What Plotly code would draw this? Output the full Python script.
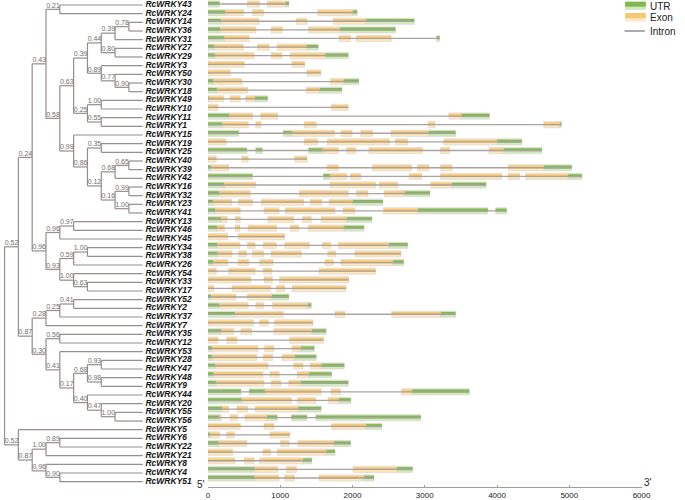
import plotly.graph_objects as go

W, H = 685, 500

# ---------------- data ----------------
genes = ["RcWRKY43", "RcWRKY24", "RcWRKY14", "RcWRKY36", "RcWRKY31", "RcWRKY27", "RcWRKY29",
         "RcWRKY3", "RcWRKY50", "RcWRKY30", "RcWRKY18", "RcWRKY49", "RcWRKY10", "RcWRKY11",
         "RcWRKY1", "RcWRKY15", "RcWRKY19", "RcWRKY25", "RcWRKY40", "RcWRKY39", "RcWRKY42",
         "RcWRKY16", "RcWRKY32", "RcWRKY23", "RcWRKY41", "RcWRKY13", "RcWRKY46", "RcWRKY45",
         "RcWRKY34", "RcWRKY38", "RcWRKY26", "RcWRKY54", "RcWRKY33", "RcWRKY17", "RcWRKY52",
         "RcWRKY2", "RcWRKY37", "RcWRKY7", "RcWRKY35", "RcWRKY12", "RcWRKY53", "RcWRKY28",
         "RcWRKY47", "RcWRKY48", "RcWRKY9", "RcWRKY44", "RcWRKY20", "RcWRKY55", "RcWRKY56",
         "RcWRKY5", "RcWRKY6", "RcWRKY22", "RcWRKY21", "RcWRKY8", "RcWRKY4", "RcWRKY51"]

# tree (Newick, bootstrap support as internal node labels)
clade_G = "(((RcWRKY14,RcWRKY36)0.78,RcWRKY31)0.39,(RcWRKY27,RcWRKY29)0.80)0.44"
clade_H = "(RcWRKY3,(RcWRKY50,(RcWRKY30,RcWRKY18)0.90)0.77)0.89"
clade_F = "((RcWRKY49,RcWRKY10)1.00,(RcWRKY11,RcWRKY1)0.55)0.25"
clade_D = ("(RcWRKY15,((RcWRKY19,RcWRKY25)0.35,(((RcWRKY40,RcWRKY39)0.65,RcWRKY42)0.68,"
           "((RcWRKY16,RcWRKY32)0.99,(RcWRKY23,RcWRKY41)1.00)0.16)0.12)0.86)0.99")
clade_A = f"((RcWRKY43,RcWRKY24)0.21,((({clade_G},{clade_H})0.39,{clade_F})0.63,{clade_D})0.58)0.43"
clade_I = ("(((RcWRKY13,RcWRKY46)0.97,RcWRKY45)0.96,(((RcWRKY34,RcWRKY38)1.00,RcWRKY26)0.59,"
           "(RcWRKY54,(RcWRKY33,RcWRKY17)0.63)1.00)0.93)0.96")
clade_K = ("((((RcWRKY52,RcWRKY2)0.41,RcWRKY37)0.25,RcWRKY7)0.28,((RcWRKY35,RcWRKY12)0.56,"
           "(RcWRKY53,(((RcWRKY28,RcWRKY47)0.93,(RcWRKY48,RcWRKY9)0.98)0.68,"
           "(RcWRKY44,(RcWRKY20,(RcWRKY55,RcWRKY56)1.00)0.47)0.40)0.17)0.41)0.30)0.87")
clade_L = "(RcWRKY5,(((RcWRKY6,RcWRKY22)0.89,RcWRKY21)1.00,(RcWRKY8,(RcWRKY4,RcWRKY51)0.90)0.96)0.87)0.52"
newick = f"((({clade_A},{clade_I})0.24,{clade_K})0.52,{clade_L});"

# gene structures (bp)
utr = {
    "RcWRKY43": [(0, 160), (1073, 1119)],
    "RcWRKY24": [(0, 242), (2000, 2064)],
    "RcWRKY14": [(0, 183), (2183, 2854)],
    "RcWRKY36": [(0, 174), (1826, 2594)],
    "RcWRKY31": [(0, 228), (3164, 3205)],
    "RcWRKY27": [(0, 91), (1360, 1525)],
    "RcWRKY29": [(0, 100), (1621, 1941)],
    "RcWRKY3": [],
    "RcWRKY50": [],
    "RcWRKY30": [(0, 78), (1872, 2087)],
    "RcWRKY18": [(0, 128), (1543, 1854)],
    "RcWRKY49": [(0, 14), (648, 826)],
    "RcWRKY10": [],
    "RcWRKY11": [(0, 297), (3507, 3895)],
    "RcWRKY1": [(0, 205), (4863, 4890)],
    "RcWRKY15": [(0, 425), (1041, 1164), (3050, 3425)],
    "RcWRKY19": [(4000, 4342)],
    "RcWRKY25": [(0, 539), (662, 753), (1393, 1589), (4087, 4621)],
    "RcWRKY40": [],
    "RcWRKY39": [(0, 46), (4648, 5032)],
    "RcWRKY42": [(0, 616), (1598, 1689), (4977, 5174)],
    "RcWRKY16": [(0, 228), (3370, 3849)],
    "RcWRKY32": [(0, 160), (2717, 3073)],
    "RcWRKY23": [(0, 78), (2000, 2420)],
    "RcWRKY41": [(0, 105), (2900, 3872), (3982, 4132)],
    "RcWRKY13": [(0, 183), (1918, 2269)],
    "RcWRKY46": [(0, 128), (1881, 2160)],
    "RcWRKY45": [],
    "RcWRKY34": [(0, 128), (2502, 2763)],
    "RcWRKY38": [(0, 137)],
    "RcWRKY26": [(0, 78), (2557, 2708)],
    "RcWRKY54": [],
    "RcWRKY33": [],
    "RcWRKY17": [],
    "RcWRKY52": [(0, 46), (877, 1119)],
    "RcWRKY2": [(0, 160), (1379, 1429)],
    "RcWRKY37": [(0, 379), (3219, 3425)],
    "RcWRKY7": [],
    "RcWRKY35": [(0, 183), (1438, 1635)],
    "RcWRKY12": [],
    "RcWRKY53": [(0, 59), (1279, 1470)],
    "RcWRKY28": [(0, 59), (1196, 1498)],
    "RcWRKY47": [(0, 105), (1566, 1886)],
    "RcWRKY48": [(0, 82), (1393, 1712)],
    "RcWRKY9": [(0, 114), (1279, 1941)],
    "RcWRKY44": [(0, 457), (571, 790), (2822, 3616)],
    "RcWRKY20": [(0, 470), (1804, 1977)],
    "RcWRKY55": [(0, 196), (1247, 1566)],
    "RcWRKY56": [(0, 160), (813, 959), (1155, 1370), (1493, 2945)],
    "RcWRKY5": [(2183, 2406)],
    "RcWRKY6": [(0, 32)],
    "RcWRKY22": [(0, 146), (1744, 1973)],
    "RcWRKY21": [(1635, 1758)],
    "RcWRKY8": [(1315, 1438)],
    "RcWRKY4": [(0, 648), (2612, 2831)],
    "RcWRKY51": [(0, 648), (2155, 2297)],
}
exon = {
    "RcWRKY43": [(548, 712), (822, 1073)],
    "RcWRKY24": [(242, 493), (616, 767), (1520, 2000)],
    "RcWRKY14": [(183, 708), (1224, 1370), (1735, 2183)],
    "RcWRKY36": [(174, 662), (877, 1027), (1393, 1826)],
    "RcWRKY31": [(228, 571), (1813, 1973), (2055, 2534)],
    "RcWRKY27": [(91, 489), (685, 845), (959, 1360)],
    "RcWRKY29": [(100, 639), (877, 1023), (1141, 1621)],
    "RcWRKY3": [(0, 502), (1164, 1338)],
    "RcWRKY50": [(0, 310), (1370, 1562)],
    "RcWRKY30": [(78, 470), (1699, 1872)],
    "RcWRKY18": [(128, 548), (1361, 1543)],
    "RcWRKY49": [(14, 219), (310, 447), (525, 648)],
    "RcWRKY10": [(0, 137), (1712, 1940)],
    "RcWRKY11": [(297, 616), (731, 968), (3333, 3507)],
    "RcWRKY1": [(205, 557), (662, 731), (1333, 1498), (3046, 3142), (4648, 4863)],
    "RcWRKY15": [(1164, 1749), (1840, 1995), (2114, 2279), (2534, 3050)],
    "RcWRKY19": [(0, 251), (1333, 1516), (1653, 2511), (2594, 2763), (3264, 4000)],
    "RcWRKY25": [(1589, 1803), (1918, 2046), (2228, 2968), (3220, 3342), (3890, 4087)],
    "RcWRKY40": [(0, 114), (470, 557), (1201, 1370)],
    "RcWRKY39": [(46, 288), (1653, 1803), (2274, 2817), (2900, 3059), (3219, 3379), (4155, 4648)],
    "RcWRKY42": [(1689, 1918), (1973, 2114), (2785, 2958), (3219, 4064), (4155, 4315), (4397, 4977)],
    "RcWRKY16": [(228, 662), (1689, 2319), (2374, 2626), (3082, 3370)],
    "RcWRKY32": [(160, 585), (1265, 1941), (2055, 2215), (2443, 2717)],
    "RcWRKY23": [(78, 329), (420, 616), (740, 1324), (1416, 1575), (1676, 2000)],
    "RcWRKY41": [(105, 447), (776, 982), (1073, 1758), (1872, 2032), (2429, 2900)],
    "RcWRKY13": [(183, 265), (379, 447), (831, 1187), (1310, 1429), (1566, 1918)],
    "RcWRKY46": [(128, 228), (379, 443), (557, 950), (1142, 1256), (1393, 1881)],
    "RcWRKY45": [(0, 274), (420, 1059)],
    "RcWRKY34": [(128, 443), (548, 653), (767, 945), (1064, 1402), (1584, 1699), (1804, 2502)],
    "RcWRKY38": [(137, 333), (425, 534), (616, 767), (877, 1292), (1658, 1767), (2032, 2671)],
    "RcWRKY26": [(78, 274), (420, 562), (717, 900), (1621, 1735), (1840, 2557)],
    "RcWRKY54": [(0, 114), (288, 653), (767, 881), (1543, 2320)],
    "RcWRKY33": [(0, 594), (776, 890), (991, 1950)],
    "RcWRKY17": [(0, 78), (333, 868), (950, 1064), (1164, 1909)],
    "RcWRKY52": [(46, 388), (548, 877)],
    "RcWRKY2": [(160, 557), (662, 767), (895, 1379)],
    "RcWRKY37": [(379, 1042), (1758, 1895), (2543, 3219)],
    "RcWRKY7": [(0, 630), (717, 836), (922, 1452)],
    "RcWRKY35": [(183, 356), (456, 603), (913, 1438)],
    "RcWRKY12": [(0, 137), (260, 402), (1132, 1598)],
    "RcWRKY53": [(59, 694), (785, 913), (1164, 1279)],
    "RcWRKY28": [(59, 676), (767, 895), (1027, 1196)],
    "RcWRKY47": [(105, 831), (1187, 1315), (1416, 1566)],
    "RcWRKY48": [(82, 763), (858, 986), (1233, 1393)],
    "RcWRKY9": [(114, 776), (877, 1005), (1119, 1279)],
    "RcWRKY44": [(790, 1566), (1703, 1836), (2680, 2822)],
    "RcWRKY20": [(470, 1155), (1242, 1493), (1667, 1804)],
    "RcWRKY55": [(196, 288), (402, 548), (653, 1247)],
    "RcWRKY56": [(160, 183), (306, 411), (511, 813)],
    "RcWRKY5": [(0, 447), (776, 913), (1712, 2183)],
    "RcWRKY6": [(32, 160), (260, 365), (858, 1132)],
    "RcWRKY22": [(146, 539), (1005, 1119), (1247, 1744)],
    "RcWRKY21": [(0, 342), (763, 868), (959, 1635)],
    "RcWRKY8": [(0, 374), (502, 639), (717, 1315)],
    "RcWRKY4": [(648, 968), (1087, 1224), (2009, 2612)],
    "RcWRKY51": [(648, 982), (1064, 1196), (1539, 2155)],
}
axis_ticks = [0, 1000, 2000, 3000, 4000, 5000, 6000]
legend_labels = ["UTR", "Exon", "Intron"]

# ---------------- colours ----------------
TREE_C = "#968d8c"
BOOT_C = "#6f6f6f"
INTRON_C = "#a9a3a1"
UTR_LIGHT, UTR_DARK = "#d3e9c2", "#7fba4f"
EXON_LIGHT, EXON_DARK = "#fde8c2", "#f8c771"
EDGE_C = "#d9d2cb"
FONT = "Liberation Sans, Arial, sans-serif"
LABEL_GAP = 0.2   # gap between tree tips and names (depth units)

# ---------------- tree parse & layout ----------------
def parse_newick(s):
    s = s.replace(" ", "").rstrip(";")
    pos = 0

    def read_label():
        nonlocal pos
        st = pos
        while pos < len(s) and s[pos] not in ",()":
            pos += 1
        return s[st:pos]

    def node():
        nonlocal pos
        if s[pos] == "(":
            pos += 1
            kids = [node()]
            while s[pos] == ",":
                pos += 1
                kids.append(node())
            pos += 1  # ')'
            return {"children": kids, "label": read_label()}
        return {"children": [], "label": read_label()}

    return node()


root = parse_newick(newick)
row_of = {g: i for i, g in enumerate(genes)}


def set_depth(n, d):
    n["depth"] = d
    for c in n["children"]:
        set_depth(c, d + 1)


set_depth(root, 0)


def leaves(n):
    if not n["children"]:
        return [n]
    out = []
    for c in n["children"]:
        out += leaves(c)
    return out


tip_x = max(l["depth"] for l in leaves(root))


def set_pos(n):
    if not n["children"]:
        n["x"] = tip_x
        n["y"] = row_of[n["label"]]
    else:
        for c in n["children"]:
            set_pos(c)
        n["x"] = n["depth"]
        n["y"] = (n["children"][0]["y"] + n["children"][-1]["y"]) / 2


set_pos(root)

tx, ty = [], []
bx, by, bt = [], [], []


def walk(n, is_root=False):
    if n["children"]:
        tx.extend([n["x"], n["x"], None])
        ty.extend([n["children"][0]["y"], n["children"][-1]["y"], None])
        for c in n["children"]:
            tx.extend([n["x"], c["x"], None])
            ty.extend([c["y"], c["y"], None])
            walk(c)
        if not is_root and n["label"]:
            bx.append(n["x"])
            by.append(n["y"])
            bt.append(n["label"])


walk(root, True)

# ---------------- figure ----------------
fig = go.Figure()

# tree branches
fig.add_trace(go.Scatter(x=tx, y=ty, mode="lines", xaxis="x2", yaxis="y",
                         line=dict(color=TREE_C, width=1.2), hoverinfo="skip",
                         showlegend=False))
# bootstrap values
fig.add_trace(go.Scatter(x=bx, y=by, text=bt, mode="text", xaxis="x2", yaxis="y",
                         textposition="top left",
                         textfont=dict(family=FONT, size=7, color=BOOT_C),
                         hoverinfo="skip", showlegend=False))
# leaf names
lv = leaves(root)
fig.add_trace(go.Scatter(x=[l["x"] + LABEL_GAP for l in lv], y=[l["y"] for l in lv],
                         text=[l["label"] for l in lv], mode="text", xaxis="x2", yaxis="y",
                         textposition="middle right",
                         textfont=dict(family=FONT, size=8.5, color="#111111",
                                       weight="bold", style="italic"),
                         hoverinfo="skip", showlegend=False))

# introns (line across gene span)
ix, iy = [], []
for g in genes:
    segs = utr[g] + exon[g]
    start = min(s for s, e in segs)
    end = max(e for s, e in segs)
    ix.extend([start, end, None])
    iy.extend([row_of[g], row_of[g], None])
fig.add_trace(go.Scatter(x=ix, y=iy, mode="lines", xaxis="x", yaxis="y2",
                         line=dict(color=INTRON_C, width=1.3), hoverinfo="skip",
                         showlegend=False))

BW = 0.72


def add_blocks(data, light, dark):
    ys, bases, lens = [], [], []
    for g in genes:
        for s, e in data[g]:
            ys.append(row_of[g])
            bases.append(s)
            lens.append(e - s)
    fig.add_trace(go.Bar(y=ys, x=lens, base=bases, orientation="h", xaxis="x", yaxis="y2",
                         width=BW, offset=-BW / 2,
                         marker=dict(color=light, line=dict(color=EDGE_C, width=0.6)),
                         hoverinfo="skip", showlegend=False))
    fig.add_trace(go.Bar(y=ys, x=lens, base=bases, orientation="h", xaxis="x", yaxis="y2",
                         width=BW * 0.5, offset=-BW / 2 + BW * 0.14,
                         marker=dict(color=dark, line=dict(width=0)),
                         hoverinfo="skip", showlegend=False))


add_blocks(utr, UTR_LIGHT, UTR_DARK)
add_blocks(exon, EXON_LIGHT, EXON_DARK)

# ---------------- axes mapping ----------------
X0_PX, X1_PX = 209.3, 650.0           # gene axis 0 .. 6000
TREE_PX0, TREE_STEP = 2.6, 14.04      # tree depth -> px
ROW0_T, STEP_T = 5.0, 8.667           # tree rows
ROW0_G, STEP_G = 4.0, 8.618           # gene rows
AXIS_Y_PX = 487.3

fig.update_layout(
    width=W, height=H, margin=dict(l=0, r=0, t=0, b=0),
    paper_bgcolor="white", plot_bgcolor="rgba(0,0,0,0)",
    barmode="overlay", showlegend=False, hovermode=False,
    font=dict(family=FONT),
    xaxis=dict(domain=[X0_PX / W, X1_PX / W], range=[axis_ticks[0], axis_ticks[-1]],
               anchor="free", position=1 - AXIS_Y_PX / H,
               showline=True, linecolor="#9e9e9e", linewidth=1,
               ticks="inside", ticklen=2, tickcolor="#9e9e9e", tickwidth=1,
               tickvals=axis_ticks, ticktext=[str(t) for t in axis_ticks],
               tickfont=dict(size=8, color="#222222", family=FONT),
               showgrid=False, zeroline=False, fixedrange=True),
    yaxis2=dict(domain=[0, 1], anchor="x",
                range=[(H - ROW0_G) / STEP_G, -ROW0_G / STEP_G],
                visible=False, fixedrange=True),
    xaxis2=dict(domain=[0, X0_PX / W], anchor="y",
                range=[-TREE_PX0 / TREE_STEP, (X0_PX - TREE_PX0) / TREE_STEP],
                visible=False, fixedrange=True),
    yaxis=dict(domain=[0, 1], anchor="x2",
               range=[(H - ROW0_T) / STEP_T, -ROW0_T / STEP_T],
               visible=False, fixedrange=True),
)

# 5' / 3' marks
fig.add_annotation(x=0, y=1 - AXIS_Y_PX / H, xref="x", yref="paper", text="5'",
                   showarrow=False, xanchor="right", yanchor="bottom", xshift=-1, yshift=-5,
                   font=dict(size=10, color="#222222"))
fig.add_annotation(x=axis_ticks[-1], y=1 - AXIS_Y_PX / H, xref="x", yref="paper", text="3'",
                   showarrow=False, xanchor="left", yanchor="bottom", xshift=0, yshift=-3,
                   font=dict(size=10, color="#222222"))

# legend (top right)
def px(x):
    return x / W


def py(y):
    return 1 - y / H


LX0, LX1 = 633.3, 654.3
for (yt, yb), light, dark in [((1.7, 10.0), UTR_LIGHT, UTR_DARK), ((13.0, 21.5), EXON_LIGHT, EXON_DARK)]:
    fig.add_shape(type="rect", xref="paper", yref="paper", x0=px(LX0), x1=px(LX1),
                  y0=py(yb), y1=py(yt), fillcolor=light, line=dict(width=0))
    fig.add_shape(type="rect", xref="paper", yref="paper", x0=px(LX0), x1=px(LX1),
                  y0=py(yt + (yb - yt) * 0.6), y1=py(yt), fillcolor=dark, line=dict(width=0))
fig.add_shape(type="line", xref="paper", yref="paper", x0=px(632.7), x1=px(653.3),
              y0=py(31), y1=py(31), line=dict(color="#8e8e8e", width=1.5))
for lab, yc in zip(legend_labels, [6.0, 17.5, 31.0]):
    fig.add_annotation(x=px(656.5), y=py(yc), xref="paper", yref="paper", text=lab,
                       showarrow=False, xanchor="left", yanchor="middle",
                       font=dict(size=10, color="#222222"))

fig.write_html("out.html", config={"displayModeBar": False, "staticPlot": True},
               post_script="document.body.style.margin='0px';document.body.style.overflow='hidden';")
